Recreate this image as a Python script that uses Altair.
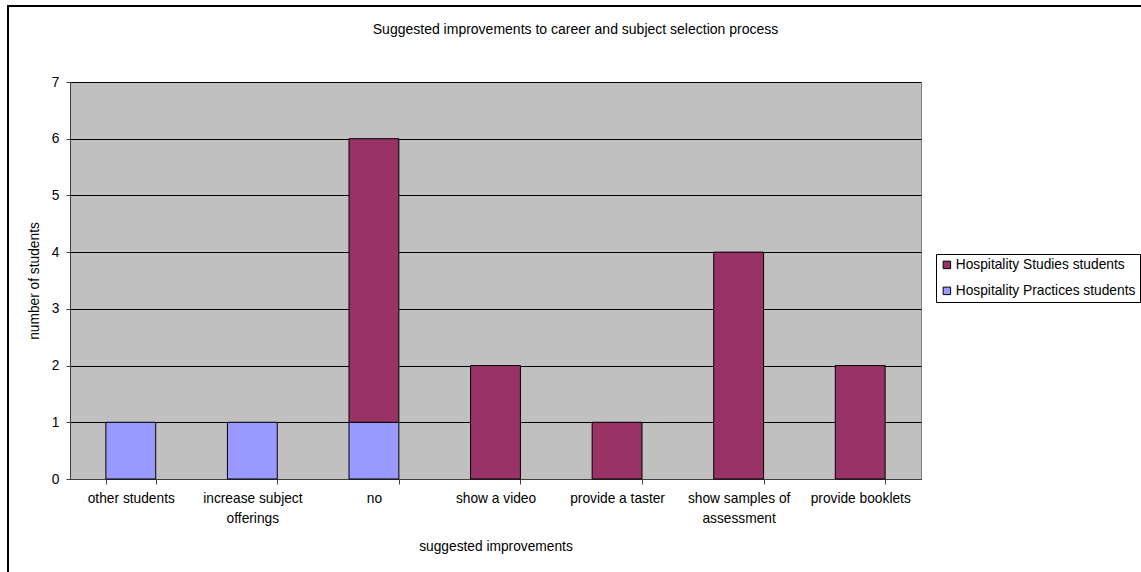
import altair as alt
import pandas as pd

# Suggested improvements and the number of students giving each, per group
categories = [
    "other students",
    "increase subject offerings",
    "no",
    "show  a video",
    "provide a taster",
    "show  samples of assessment",
    "provide booklets",
]
practices_students = [1, 1, 1, 0, 0, 0, 0]
studies_students = [0, 0, 5, 2, 1, 4, 2]

series_names = ["Hospitality Studies students", "Hospitality Practices students"]
series_colors = ["#993366", "#9999FF"]

# Two-line axis labels for the longer categories
wrapped = {
    "increase subject offerings": ["increase subject", "offerings"],
    "show  samples of assessment": ["show  samples of", "assessment"],
}

rows = []
for cat, p, s in zip(categories, practices_students, studies_students):
    if p:
        rows.append({"improvement": cat, "group": series_names[1], "students": p, "stack": 0})
    if s:
        rows.append({"improvement": cat, "group": series_names[0], "students": s, "stack": 1})
df = pd.DataFrame(rows)

label_expr = "datum.label"
for key, lines in wrapped.items():
    arr = "[" + ", ".join("'" + l + "'" for l in lines) + "]"
    label_expr = f"datum.label == '{key}' ? {arr} : ({label_expr})"

FONT = "Liberation Sans"
FS = 13.75
W, H = 851, 397
LEFT, TOP = 70, 82

bars = alt.Chart(df).mark_bar(stroke="black", strokeWidth=1).encode(
    x=alt.X(
        "improvement:N",
        sort=categories,
        scale=alt.Scale(paddingInner=0.59, paddingOuter=0.295),
        axis=alt.Axis(
            title="suggested improvements",
            labelAngle=0,
            labelExpr=label_expr,
            labelLineHeight=20,
            labelPadding=7,
            tickBand="extent",
            tickSize=5,
            tickColor="#404040",
            domainColor="#404040",
            grid=False,
            titlePadding=15,
        ),
    ),
    y=alt.Y(
        "students:Q",
        stack="zero",
        scale=alt.Scale(domain=[0, 7], nice=False),
        axis=alt.Axis(
            title="number of students",
            values=[0, 1, 2, 3, 4, 5, 6, 7],
            labelOverlap=False,
            tickSize=4,
            tickColor="#404040",
            domainColor="#404040",
            labelPadding=7,
            titlePadding=10,
            grid=True,
            gridColor="black",
            gridOpacity=1,
        ),
    ),
    color=alt.Color(
        "group:N",
        scale=alt.Scale(domain=series_names, range=series_colors),
        legend=alt.Legend(
            title=None,
            orient="none",
            legendX=866,
            legendY=172,
            strokeColor="black",
            padding=4,
            symbolType="square",
            symbolSize=56,
            symbolStrokeColor="black",
            symbolStrokeWidth=1,
            labelOffset=2,
            rowPadding=11,
            labelFontSize=FS,
            labelFont=FONT,
            labelColor="black",
            labelLimit=300,
        ),
    ),
    order=alt.Order("stack:Q"),
)

# Outer chart frame
frame = alt.Chart(df).mark_rect(fill=None, stroke="black", strokeWidth=2).encode(
    x=alt.value(8 - LEFT),
    y=alt.value(6 - TOP),
    x2=alt.value(1141 - LEFT + 20),
    y2=alt.value(572 - TOP + 20),
)

chart = (
    alt.layer(frame, bars)
    .properties(
        width=W,
        height=H,
        title=alt.TitleParams(
            "Suggested improvements to career and subject selection process",
            anchor="middle",
            frame="group",
            dx=80,
            offset=-32,
            font=FONT,
            fontSize=14,
            fontWeight="normal",
            color="black",
        ),
        autosize=alt.AutoSizeParams(type="none"),
        padding={"left": LEFT, "top": TOP, "right": 1141 - LEFT - W, "bottom": 572 - TOP - H},
    )
    .configure(
        background="white",
        view=alt.ViewConfig(fill="#C0C0C0", stroke="#808080", strokeWidth=1),
        axis=alt.AxisConfig(
            labelFont=FONT,
            labelFontSize=FS,
            labelColor="black",
            titleFont=FONT,
            titleFontSize=FS,
            titleFontWeight="normal",
            titleColor="black",
        ),
    )
)

chart.save("out.html", embed_options={"renderer": "svg", "actions": False})
